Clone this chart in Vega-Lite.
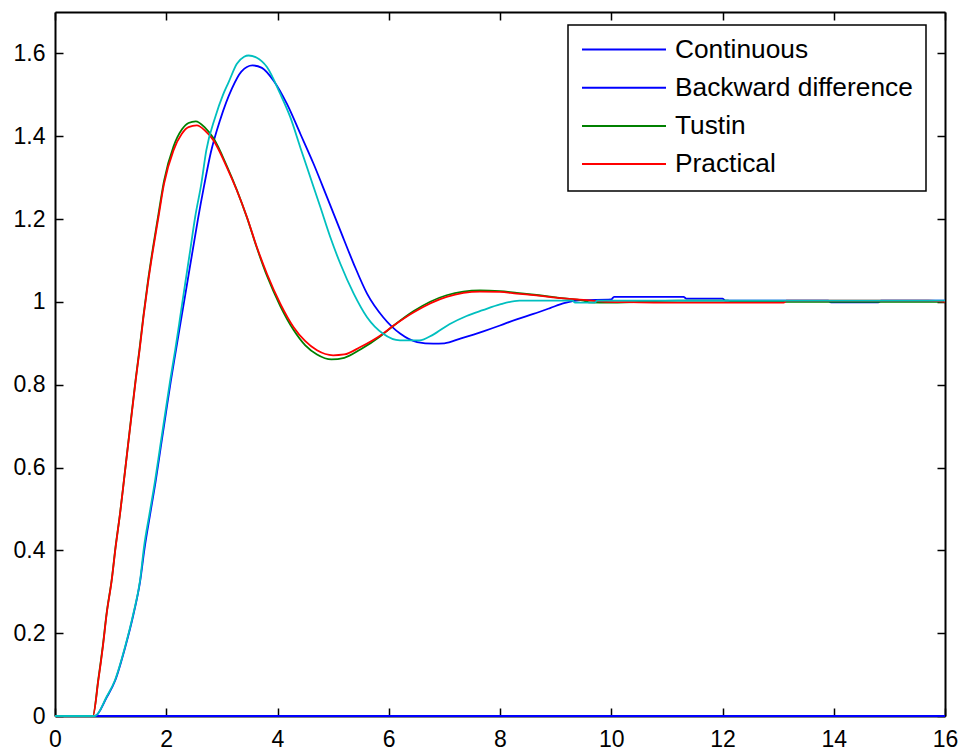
{
  "$schema": "https://vega.github.io/schema/vega-lite/v6.json",
  "width": 890,
  "height": 704,
  "autosize": {"type": "none"},
  "padding": {"left": 55, "top": 12, "right": 16, "bottom": 35},
  "background": "white",
  "config": {
    "view": {"stroke": null},
    "axis": {
      "labelFont": "Liberation Sans",
      "labelFontSize": 23,
      "labelColor": "black",
      "domainColor": "black",
      "domainWidth": 2,
      "tickColor": "black",
      "tickWidth": 1.5,
      "tickSize": -8,
      "grid": false,
      "title": null,
      "labelFlush": false
    },
    "legend": {"strokeWidth": 1.5}
  },
  "data": {
    "values": [
      {"s": "Continuous", "t": 0, "v": 0},
      {"s": "Continuous", "t": 16, "v": 0},

      {"s": "Backward difference", "t": 0, "v": 0},
      {"s": "Backward difference", "t": 0.72, "v": 0},
      {"s": "Backward difference", "t": 0.93, "v": 0.045},
      {"s": "Backward difference", "t": 1.08, "v": 0.085},
      {"s": "Backward difference", "t": 1.26, "v": 0.165},
      {"s": "Backward difference", "t": 1.41, "v": 0.245},
      {"s": "Backward difference", "t": 1.53, "v": 0.325},
      {"s": "Backward difference", "t": 1.61, "v": 0.405},
      {"s": "Backward difference", "t": 1.71, "v": 0.487},
      {"s": "Backward difference", "t": 1.81, "v": 0.567},
      {"s": "Backward difference", "t": 1.9, "v": 0.648},
      {"s": "Backward difference", "t": 1.99, "v": 0.728},
      {"s": "Backward difference", "t": 2.08, "v": 0.807},
      {"s": "Backward difference", "t": 2.17, "v": 0.88},
      {"s": "Backward difference", "t": 2.27, "v": 0.96},
      {"s": "Backward difference", "t": 2.37, "v": 1.04},
      {"s": "Backward difference", "t": 2.47, "v": 1.12},
      {"s": "Backward difference", "t": 2.57, "v": 1.2},
      {"s": "Backward difference", "t": 2.68, "v": 1.28},
      {"s": "Backward difference", "t": 2.8, "v": 1.36},
      {"s": "Backward difference", "t": 2.97, "v": 1.44},
      {"s": "Backward difference", "t": 3.18, "v": 1.515},
      {"s": "Backward difference", "t": 3.35, "v": 1.556},
      {"s": "Backward difference", "t": 3.55, "v": 1.571},
      {"s": "Backward difference", "t": 3.72, "v": 1.565},
      {"s": "Backward difference", "t": 3.93, "v": 1.534},
      {"s": "Backward difference", "t": 4.17, "v": 1.478},
      {"s": "Backward difference", "t": 4.41, "v": 1.406},
      {"s": "Backward difference", "t": 4.65, "v": 1.333},
      {"s": "Backward difference", "t": 4.89, "v": 1.253},
      {"s": "Backward difference", "t": 5.13, "v": 1.172},
      {"s": "Backward difference", "t": 5.37, "v": 1.092},
      {"s": "Backward difference", "t": 5.61, "v": 1.02},
      {"s": "Backward difference", "t": 5.9, "v": 0.963},
      {"s": "Backward difference", "t": 6.21, "v": 0.923},
      {"s": "Backward difference", "t": 6.51, "v": 0.903},
      {"s": "Backward difference", "t": 6.8, "v": 0.899},
      {"s": "Backward difference", "t": 7.0, "v": 0.9},
      {"s": "Backward difference", "t": 7.3, "v": 0.912},
      {"s": "Backward difference", "t": 7.7, "v": 0.929},
      {"s": "Backward difference", "t": 8.0, "v": 0.943},
      {"s": "Backward difference", "t": 8.3, "v": 0.958},
      {"s": "Backward difference", "t": 8.6, "v": 0.971},
      {"s": "Backward difference", "t": 8.9, "v": 0.985},
      {"s": "Backward difference", "t": 9.15, "v": 0.997},
      {"s": "Backward difference", "t": 9.45, "v": 1.004},
      {"s": "Backward difference", "t": 10.0, "v": 1.006},
      {"s": "Backward difference", "t": 10.05, "v": 1.012},
      {"s": "Backward difference", "t": 11.3, "v": 1.012},
      {"s": "Backward difference", "t": 11.35, "v": 1.008},
      {"s": "Backward difference", "t": 12.0, "v": 1.008},
      {"s": "Backward difference", "t": 12.05, "v": 1.003},
      {"s": "Backward difference", "t": 13.9, "v": 1.003},
      {"s": "Backward difference", "t": 13.95, "v": 0.999},
      {"s": "Backward difference", "t": 14.8, "v": 0.999},
      {"s": "Backward difference", "t": 14.85, "v": 1.003},
      {"s": "Backward difference", "t": 16, "v": 1.003},

      {"s": "Tustin", "t": 0, "v": 0},
      {"s": "Tustin", "t": 0.68, "v": 0},
      {"s": "Tustin", "t": 0.78, "v": 0.09},
      {"s": "Tustin", "t": 0.86, "v": 0.17},
      {"s": "Tustin", "t": 0.93, "v": 0.25},
      {"s": "Tustin", "t": 1.02, "v": 0.33},
      {"s": "Tustin", "t": 1.09, "v": 0.41},
      {"s": "Tustin", "t": 1.17, "v": 0.49},
      {"s": "Tustin", "t": 1.24, "v": 0.57},
      {"s": "Tustin", "t": 1.31, "v": 0.652},
      {"s": "Tustin", "t": 1.38, "v": 0.733},
      {"s": "Tustin", "t": 1.45, "v": 0.813},
      {"s": "Tustin", "t": 1.52, "v": 0.887},
      {"s": "Tustin", "t": 1.59, "v": 0.967},
      {"s": "Tustin", "t": 1.67, "v": 1.049},
      {"s": "Tustin", "t": 1.76, "v": 1.13},
      {"s": "Tustin", "t": 1.86, "v": 1.212},
      {"s": "Tustin", "t": 1.96, "v": 1.292},
      {"s": "Tustin", "t": 2.13, "v": 1.375},
      {"s": "Tustin", "t": 2.28, "v": 1.416},
      {"s": "Tustin", "t": 2.4, "v": 1.432},
      {"s": "Tustin", "t": 2.53, "v": 1.436},
      {"s": "Tustin", "t": 2.7, "v": 1.42},
      {"s": "Tustin", "t": 2.85, "v": 1.395},
      {"s": "Tustin", "t": 3.09, "v": 1.328},
      {"s": "Tustin", "t": 3.27, "v": 1.27},
      {"s": "Tustin", "t": 3.45, "v": 1.204},
      {"s": "Tustin", "t": 3.63, "v": 1.13},
      {"s": "Tustin", "t": 3.81, "v": 1.063},
      {"s": "Tustin", "t": 4.05, "v": 0.99},
      {"s": "Tustin", "t": 4.29, "v": 0.932},
      {"s": "Tustin", "t": 4.5, "v": 0.895},
      {"s": "Tustin", "t": 4.71, "v": 0.873},
      {"s": "Tustin", "t": 4.97, "v": 0.861},
      {"s": "Tustin", "t": 5.2, "v": 0.865},
      {"s": "Tustin", "t": 5.49, "v": 0.885},
      {"s": "Tustin", "t": 5.85, "v": 0.917},
      {"s": "Tustin", "t": 6.09, "v": 0.943},
      {"s": "Tustin", "t": 6.45, "v": 0.978},
      {"s": "Tustin", "t": 7.04, "v": 1.016},
      {"s": "Tustin", "t": 7.64, "v": 1.028},
      {"s": "Tustin", "t": 8.0, "v": 1.026},
      {"s": "Tustin", "t": 8.3, "v": 1.022},
      {"s": "Tustin", "t": 8.7, "v": 1.016},
      {"s": "Tustin", "t": 9.1, "v": 1.009},
      {"s": "Tustin", "t": 9.5, "v": 1.003},
      {"s": "Tustin", "t": 9.6, "v": 0.999},
      {"s": "Tustin", "t": 10.0, "v": 0.998},
      {"s": "Tustin", "t": 11.2, "v": 1.003},
      {"s": "Tustin", "t": 12.1, "v": 1.003},
      {"s": "Tustin", "t": 12.2, "v": 1.0},
      {"s": "Tustin", "t": 16, "v": 1.0},

      {"s": "Practical", "t": 0, "v": 0},
      {"s": "Practical", "t": 0.68, "v": 0},
      {"s": "Practical", "t": 0.78, "v": 0.087},
      {"s": "Practical", "t": 0.86, "v": 0.167},
      {"s": "Practical", "t": 0.93, "v": 0.248},
      {"s": "Practical", "t": 1.02, "v": 0.328},
      {"s": "Practical", "t": 1.09, "v": 0.408},
      {"s": "Practical", "t": 1.17, "v": 0.489},
      {"s": "Practical", "t": 1.24, "v": 0.569},
      {"s": "Practical", "t": 1.31, "v": 0.65},
      {"s": "Practical", "t": 1.38, "v": 0.73},
      {"s": "Practical", "t": 1.45, "v": 0.81},
      {"s": "Practical", "t": 1.52, "v": 0.883},
      {"s": "Practical", "t": 1.59, "v": 0.963},
      {"s": "Practical", "t": 1.67, "v": 1.044},
      {"s": "Practical", "t": 1.76, "v": 1.124},
      {"s": "Practical", "t": 1.86, "v": 1.205},
      {"s": "Practical", "t": 1.96, "v": 1.285},
      {"s": "Practical", "t": 2.13, "v": 1.366},
      {"s": "Practical", "t": 2.28, "v": 1.406},
      {"s": "Practical", "t": 2.4, "v": 1.422},
      {"s": "Practical", "t": 2.55, "v": 1.426},
      {"s": "Practical", "t": 2.7, "v": 1.413},
      {"s": "Practical", "t": 2.85, "v": 1.39},
      {"s": "Practical", "t": 3.09, "v": 1.325},
      {"s": "Practical", "t": 3.27, "v": 1.269},
      {"s": "Practical", "t": 3.45, "v": 1.205},
      {"s": "Practical", "t": 3.63, "v": 1.132},
      {"s": "Practical", "t": 3.81, "v": 1.068},
      {"s": "Practical", "t": 4.05, "v": 0.996},
      {"s": "Practical", "t": 4.29, "v": 0.939},
      {"s": "Practical", "t": 4.5, "v": 0.905},
      {"s": "Practical", "t": 4.71, "v": 0.883},
      {"s": "Practical", "t": 5.0, "v": 0.871},
      {"s": "Practical", "t": 5.2, "v": 0.873},
      {"s": "Practical", "t": 5.49, "v": 0.891},
      {"s": "Practical", "t": 5.85, "v": 0.919},
      {"s": "Practical", "t": 6.09, "v": 0.943},
      {"s": "Practical", "t": 6.45, "v": 0.975},
      {"s": "Practical", "t": 7.04, "v": 1.012},
      {"s": "Practical", "t": 7.64, "v": 1.025},
      {"s": "Practical", "t": 8.0, "v": 1.024},
      {"s": "Practical", "t": 8.3, "v": 1.02},
      {"s": "Practical", "t": 8.7, "v": 1.015},
      {"s": "Practical", "t": 9.1, "v": 1.009},
      {"s": "Practical", "t": 9.5, "v": 1.005},
      {"s": "Practical", "t": 9.9, "v": 1.0},
      {"s": "Practical", "t": 10.5, "v": 0.999},
      {"s": "Practical", "t": 11.3, "v": 0.998},
      {"s": "Practical", "t": 13.1, "v": 0.998},
      {"s": "Practical", "t": 13.15, "v": 1.003},
      {"s": "Practical", "t": 15.7, "v": 1.003},
      {"s": "Practical", "t": 16, "v": 1.0},

      {"s": "Exact", "t": 0, "v": 0},
      {"s": "Exact", "t": 0.72, "v": 0},
      {"s": "Exact", "t": 0.93, "v": 0.047},
      {"s": "Exact", "t": 1.08, "v": 0.087},
      {"s": "Exact", "t": 1.26, "v": 0.167},
      {"s": "Exact", "t": 1.41, "v": 0.248},
      {"s": "Exact", "t": 1.53, "v": 0.328},
      {"s": "Exact", "t": 1.6, "v": 0.408},
      {"s": "Exact", "t": 1.7, "v": 0.489},
      {"s": "Exact", "t": 1.8, "v": 0.569},
      {"s": "Exact", "t": 1.89, "v": 0.65},
      {"s": "Exact", "t": 1.98, "v": 0.73},
      {"s": "Exact", "t": 2.07, "v": 0.81},
      {"s": "Exact", "t": 2.16, "v": 0.883},
      {"s": "Exact", "t": 2.25, "v": 0.963},
      {"s": "Exact", "t": 2.34, "v": 1.044},
      {"s": "Exact", "t": 2.43, "v": 1.124},
      {"s": "Exact", "t": 2.52, "v": 1.205},
      {"s": "Exact", "t": 2.63, "v": 1.285},
      {"s": "Exact", "t": 2.72, "v": 1.366},
      {"s": "Exact", "t": 2.88, "v": 1.446},
      {"s": "Exact", "t": 3.02, "v": 1.5},
      {"s": "Exact", "t": 3.12, "v": 1.53},
      {"s": "Exact", "t": 3.27, "v": 1.575},
      {"s": "Exact", "t": 3.4, "v": 1.592},
      {"s": "Exact", "t": 3.48, "v": 1.595},
      {"s": "Exact", "t": 3.62, "v": 1.59},
      {"s": "Exact", "t": 3.81, "v": 1.567},
      {"s": "Exact", "t": 4.05, "v": 1.502},
      {"s": "Exact", "t": 4.23, "v": 1.446},
      {"s": "Exact", "t": 4.41, "v": 1.373},
      {"s": "Exact", "t": 4.59, "v": 1.301},
      {"s": "Exact", "t": 4.77, "v": 1.229},
      {"s": "Exact", "t": 4.95, "v": 1.156},
      {"s": "Exact", "t": 5.13, "v": 1.092},
      {"s": "Exact", "t": 5.37, "v": 1.02},
      {"s": "Exact", "t": 5.61, "v": 0.963},
      {"s": "Exact", "t": 5.9, "v": 0.923},
      {"s": "Exact", "t": 6.2, "v": 0.907},
      {"s": "Exact", "t": 6.55, "v": 0.907},
      {"s": "Exact", "t": 6.8, "v": 0.921},
      {"s": "Exact", "t": 7.09, "v": 0.946},
      {"s": "Exact", "t": 7.4, "v": 0.966},
      {"s": "Exact", "t": 7.69, "v": 0.98},
      {"s": "Exact", "t": 8.0, "v": 0.994},
      {"s": "Exact", "t": 8.35, "v": 1.003},
      {"s": "Exact", "t": 9.3, "v": 1.003},
      {"s": "Exact", "t": 9.35, "v": 0.998},
      {"s": "Exact", "t": 9.7, "v": 0.998},
      {"s": "Exact", "t": 9.75, "v": 1.003},
      {"s": "Exact", "t": 16, "v": 1.003}
    ]
  },
  "layer": [
    {
      "mark": {"type": "line", "strokeWidth": 1.8, "clip": false, "interpolate": "monotone"},
      "encoding": {
        "x": {
          "field": "t", "type": "quantitative",
          "scale": {"domain": [0, 16], "nice": false, "zero": false},
          "axis": {"orient": "bottom", "values": [0, 2, 4, 6, 8, 10, 12, 14, 16], "format": "d", "labelPadding": 20}
        },
        "y": {
          "field": "v", "type": "quantitative",
          "scale": {"domain": [0, 1.7], "nice": false, "zero": false},
          "axis": {"orient": "left", "values": [0, 0.2, 0.4, 0.6, 0.8, 1, 1.2, 1.4, 1.6], "format": "~g", "labelPadding": 18}
        },
        "color": {
          "field": "s", "type": "nominal",
          "scale": {
            "domain": ["Continuous", "Backward difference", "Tustin", "Practical", "Exact"],
            "range": ["#0000FF", "#0000FF", "#008000", "#FF0000", "#00BFBF"]
          },
          "legend": {
            "orient": "none",
            "legendX": 513,
            "legendY": 13,
            "title": null,
            "values": ["Continuous", "Backward difference", "Tustin", "Practical"],
            "symbolType": "stroke",
            "symbolSize": 7056,
            "symbolStrokeWidth": 2,
            "clipHeight": 23,
            "rowPadding": 11.2,
            "labelFont": "Liberation Sans",
            "labelFontSize": 26.3,
            "labelColor": "black",
            "labelOffset": 8,
            "labelLimit": 400,
            "padding": 13,
            "strokeColor": "black",
            "fillColor": "white"
          }
        }
      }
    },
    {
      "mark": {"type": "line", "opacity": 0},
      "encoding": {
        "x": {
          "field": "t", "type": "quantitative",
          "axis": {"orient": "top", "labels": false, "values": [0, 2, 4, 6, 8, 10, 12, 14, 16]}
        },
        "y": {
          "field": "v", "type": "quantitative",
          "axis": {"orient": "right", "labels": false, "values": [0, 0.2, 0.4, 0.6, 0.8, 1, 1.2, 1.4, 1.6]}
        }
      }
    }
  ],
  "resolve": {"axis": {"x": "independent", "y": "independent"}}
}
